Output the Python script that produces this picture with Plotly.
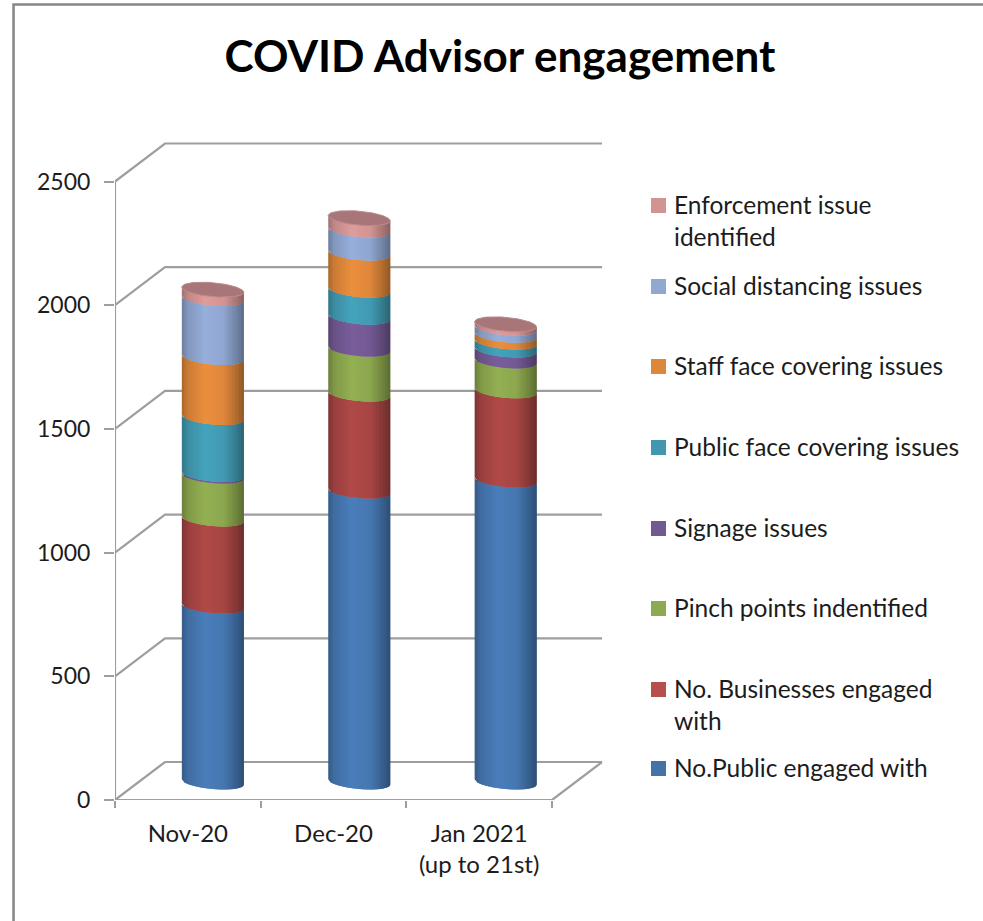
import numpy as np
import plotly.graph_objects as go

categories = ["Nov-20", "Dec-20", "Jan 2021<br>(up to 21st)"]
tick_values = [0, 500, 1000, 1500, 2000, 2500]

public_engaged = [711, 1176, 1221]
businesses_engaged = [352, 392, 360]
pinch_points = [174, 182, 121]
signage = [6, 129, 44]
public_face = [230, 109, 32]
staff_face = [243, 150, 28]
social_distancing = [238, 93, 28]
enforcement = [36, 48, 16]

series_names = ["No.Public engaged with", "No. Businesses engaged<br>with", "Pinch points indentified",
                "Signage issues", "Public face covering issues", "Staff face covering issues",
                "Social distancing issues", "Enforcement issue<br>identified"]
series_values = [public_engaged, businesses_engaged, pinch_points, signage,
                 public_face, staff_face, social_distancing, enforcement]
series_colors = ["#4A7EBB", "#B04A48", "#94B053", "#7A5E9C", "#45A3BC", "#EB8F3E", "#97AFDB", "#DF9C9C"]
swatch_colors = ["#4573A8", "#B5504D", "#8DAA50", "#705A92", "#4198AE", "#DC873A", "#91A8D1", "#D49393"]
legend_first_line_px = [769, 690, 609, 529, 448, 367, 287, 206]

W, H = 983, 921
LEFT, BOTTOM_PX = 115, 800
PX_PER_CAT = 145.67
PX_PER_UNIT = 618.5 / 2500
GRID = "#9E9E9E"
FONT = "Lato"
TEXT = "#1c1c1c"

depth_x = 50 / PX_PER_CAT
depth_y = 38 / PX_PER_UNIT
half_w = 31 / PX_PER_CAT
ell_h = 7 / PX_PER_UNIT
ell_tilt = 2.7 / PX_PER_UNIT
x_lo, x_hi = -0.5, -0.5 + (W - LEFT) / PX_PER_CAT
y_top = BOTTOM_PX / PX_PER_UNIT


def px(x):
    return (x - LEFT) / (W - LEFT)


def py(y):
    return (BOTTOM_PX - y) / BOTTOM_PX


def shade(color, f):
    r, g, b = [int(color[i:i + 2], 16) for i in (1, 3, 5)]
    return "rgb(%d,%d,%d)" % (r * f, g * f, b * f)


def light(u):
    return float(np.interp(u, [-1, -0.8, -0.25, 0.35, 0.75, 1], [0.72, 0.87, 1.0, 0.95, 0.76, 0.62]))


def front(u):
    return -ell_tilt * u - ell_h * np.sqrt(np.clip(1 - u * u, 0, 1))


fig = go.Figure()


def line(xs, ys, width=2.2, color=GRID):
    fig.add_trace(go.Scatter(x=xs, y=ys, mode="lines", line=dict(color=color, width=width),
                             showlegend=False, hoverinfo="skip"))


# 3-D frame, built from the value axis ticks
n = len(categories)
x_end = x_lo + n
for v in tick_values:
    line([x_lo, x_lo + depth_x, x_end + depth_x], [v, v + depth_y, v + depth_y])
line([x_lo, x_lo], [0, tick_values[-1]])
line([x_lo, x_end, x_end + depth_x], [0, 0, depth_y])

# Cylinders as thin shaded strips (each overlaps the next to hide seams)
N = 26
edges = np.linspace(-1, 1, N + 1)
floor_lift = (800 - 789) / PX_PER_UNIT
centers = [k + depth_x / 2 + 0.005 * k for k in range(n)]
tops = np.cumsum(np.array(series_values), axis=0)
bottoms = np.vstack([np.zeros(n), tops[:-1]])

for si, color in enumerate(series_colors):
    for j in range(N):
        u = np.linspace(edges[j], edges[min(j + 2, N)], 5)
        xs, ys = [], []
        for k in range(n):
            c = centers[k]
            xu = c + half_w * u
            lo = floor_lift + bottoms[si][k] + front(u) + ell_h
            hi = floor_lift + tops[si][k] + front(u) + ell_h
            xs += list(xu) + list(xu[::-1]) + [xu[0], None]
            ys += list(lo) + list(hi[::-1]) + [lo[0], None]
        f = shade(color, light((edges[j] + edges[j + 1]) / 2))
        fig.add_trace(go.Scatter(x=xs, y=ys, mode="lines", fill="toself", fillcolor=f,
                                 line=dict(width=0), name=series_names[si].replace("<br>", " "),
                                 showlegend=False, hoverinfo="skip"))

# Top caps
t = np.linspace(0, 2 * np.pi, 80)
xs, ys = [], []
for k in range(n):
    xs += list(centers[k] + half_w * np.cos(t)) + [None]
    ys += list(floor_lift + tops[-1][k] + ell_h - ell_tilt * np.cos(t) + ell_h * np.sin(t)) + [None]
fig.add_trace(go.Scatter(x=xs, y=ys, mode="lines", fill="toself", fillcolor="#A87678",
                         line=dict(color="#B98A8B", width=1), showlegend=False, hoverinfo="skip"))

shapes = [dict(type="path", xref="paper", yref="paper", layer="above",
               path="M %.4f %.4f L %.4f %.4f L %.4f %.4f" % (px(13.5), py(925), px(13.5), py(4.5), px(985), py(4.5)),
               line=dict(color="#868686", width=2.5))]
annotations = []
for name, col, y in zip(series_names, swatch_colors, legend_first_line_px):
    shapes.append(dict(type="rect", xref="paper", yref="paper", layer="above",
                       x0=px(651), x1=px(666), y0=py(y + 7), y1=py(y - 8),
                       fillcolor=col, line=dict(width=0)))
    annotations.append(dict(xref="paper", yref="paper", x=px(672), y=py(y - 18), xanchor="left", yanchor="top",
                            text=name, showarrow=False, align="left", font=dict(family=FONT, size=24.5, color=TEXT)))

fig.update_layout(
    width=W, height=H, autosize=False, showlegend=False,
    paper_bgcolor="white", plot_bgcolor="white",
    margin=dict(l=LEFT, r=0, t=0, b=H - BOTTOM_PX, pad=0),
    title=dict(text="COVID Advisor engagement", x=500 / W, y=1 - 57 / H, xref="container", yref="container",
               xanchor="center", yanchor="middle", font=dict(family=FONT, size=44, color="black", weight=700)),
    xaxis=dict(range=[x_lo, x_hi], showgrid=False, zeroline=False, showline=False,
               tickmode="array", tickvals=list(range(n)), ticktext=categories,
               ticks="outside", ticklen=12, tickcolor="rgba(0,0,0,0)", tickwidth=1,
               tickfont=dict(family=FONT, size=24, color=TEXT),
               minor=dict(tickmode="array", tickvals=[x_lo + i for i in range(n + 1)], ticks="outside",
                          ticklen=7, tickcolor=GRID, tickwidth=2, showgrid=False)),
    yaxis=dict(range=[0, y_top], showgrid=False, zeroline=False, showline=False,
               tickmode="array", tickvals=tick_values, ticks="outside", ticklen=10, tickcolor=GRID, tickwidth=2,
               ticklabelstandoff=9, tickfont=dict(family=FONT, size=23, color=TEXT)),
    shapes=shapes, annotations=annotations,
)
fig.write_html("out.html", config={"displayModeBar": False},
               post_script="document.body.style.margin='0';document.documentElement.style.overflow='hidden';")
